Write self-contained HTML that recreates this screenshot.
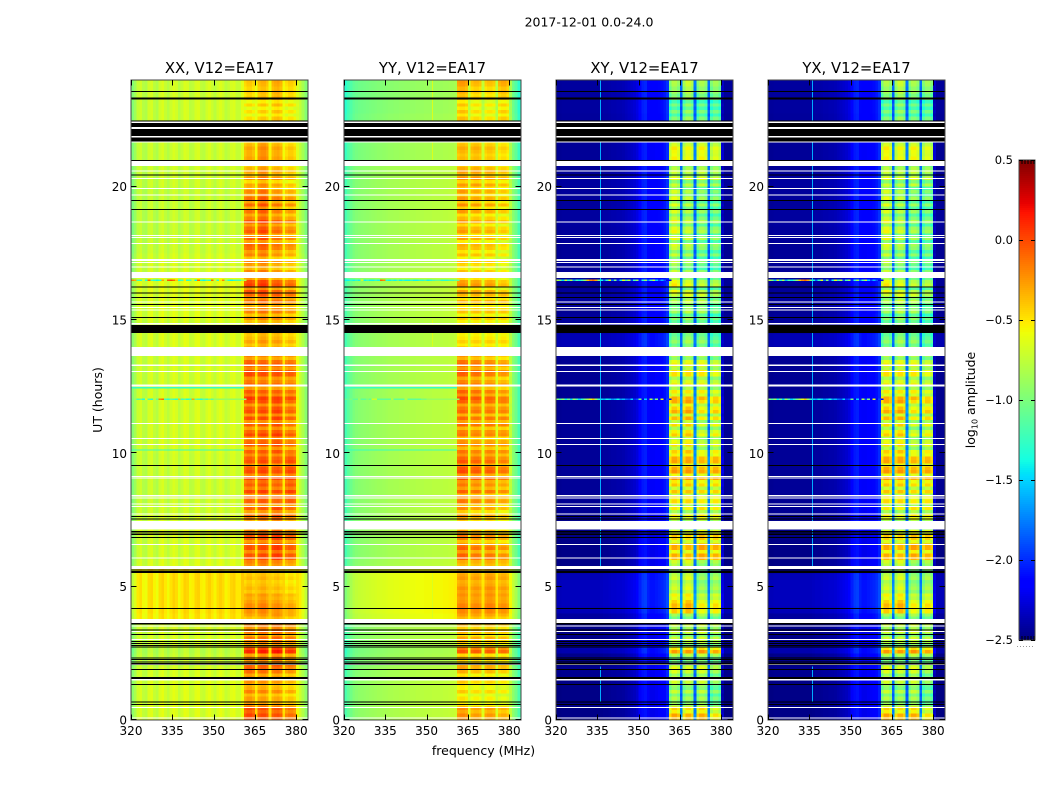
<!DOCTYPE html>
<html lang="en">
<head>
<meta charset="utf-8">
<title>2017-12-01 0.0-24.0</title>
<style>
html,body{margin:0;padding:0;background:#fff;}
svg{display:block;}
text{font-family:"DejaVu Sans","Liberation Sans",sans-serif;fill:#000;}
</style>
</head>
<body>
<svg id="fig" xmlns="http://www.w3.org/2000/svg" width="1050" height="800" viewBox="0 0 1050 800">
<rect x="0" y="0" width="1050" height="800" fill="#fff"/>
<text x="589" y="26.5" font-size="12.5" text-anchor="middle">2017-12-01 0.0-24.0</text>
<text x="483.5" y="755" font-size="12.5" text-anchor="middle">frequency (MHz)</text>
<text x="0" y="0" font-size="12.5" text-anchor="middle" transform="translate(102 400) rotate(-90)">UT (hours)</text>
<text x="0" y="0" font-size="12.5" text-anchor="middle" transform="translate(975 400) rotate(-90)">log<tspan font-size="8" dy="2.5">10</tspan><tspan dy="-2.5"> amplitude</tspan></text>
<g id="panels"></g>
<g id="cbar"></g>
</svg>
<script>
// ---- axis ticks ----
const freqTicks = [320, 335, 350, 365, 380];
const utTicks = [0, 5, 10, 15, 20];
const colorTicks = [-2.5, -2.0, -1.5, -1.0, -0.5, 0.0, 0.5];
const panelTitles = ["XX, V12=EA17", "YY, V12=EA17", "XY, V12=EA17", "YX, V12=EA17"];

// ---- mean log10 amplitude per 1 MHz channel, 320..383 MHz ----
const spectrumXX = [-0.95,-0.85,-0.71,-0.67,-0.77,-0.79,-0.67,-0.65,-0.75,-0.79,-0.67,-0.63,-0.71,-0.77,-0.69,-0.63,-0.67,-0.77,-0.71,-0.63,-0.65,-0.75,-0.73,-0.65,-0.63,-0.73,-0.75,-0.67,-0.63,-0.69,-0.75,-0.67,-0.63,-0.67,-0.75,-0.71,-0.65,-0.63,-0.71,-0.71,-0.61,-0.40,-0.34,-0.34,-0.40,-0.55,-0.35,-0.30,-0.30,-0.36,-0.55,-0.38,-0.34,-0.32,-0.38,-0.56,-0.44,-0.38,-0.38,-0.44,-0.62,-0.72,-0.82,-0.95];
const spectrumYY = [-1.20,-1.12,-1.06,-1.00,-0.97,-0.95,-0.94,-0.93,-0.92,-0.91,-0.90,-0.89,-0.88,-0.88,-0.87,-0.86,-0.85,-0.85,-0.84,-0.84,-0.83,-0.83,-0.82,-0.82,-0.81,-0.81,-0.80,-0.80,-0.80,-0.79,-0.79,-0.79,-0.78,-0.78,-0.78,-0.78,-0.77,-0.77,-0.76,-0.76,-0.74,-0.50,-0.46,-0.46,-0.50,-0.70,-0.50,-0.46,-0.46,-0.50,-0.70,-0.50,-0.46,-0.46,-0.50,-0.72,-0.52,-0.48,-0.48,-0.54,-0.78,-0.95,-1.05,-1.20];
const spectrumXY = [-2.47,-2.47,-2.46,-2.46,-2.46,-2.46,-2.46,-2.46,-2.46,-2.46,-2.46,-2.46,-2.46,-2.46,-2.46,-2.46,-2.45,-2.44,-2.44,-2.43,-2.42,-2.42,-2.41,-2.41,-2.40,-2.38,-2.36,-2.34,-2.32,-2.28,-2.16,-2.08,-2.06,-2.16,-2.20,-2.20,-2.18,-2.16,-2.14,-2.10,-2.02,-1.08,-0.90,-0.90,-1.00,-1.85,-1.05,-0.90,-0.90,-1.00,-1.85,-1.05,-0.92,-0.92,-1.02,-1.85,-1.08,-0.95,-0.95,-1.08,-2.36,-2.47,-2.47,-2.47];
const spectrumYX = [-2.47,-2.47,-2.46,-2.46,-2.46,-2.46,-2.46,-2.46,-2.46,-2.46,-2.46,-2.46,-2.46,-2.46,-2.46,-2.46,-2.45,-2.44,-2.44,-2.43,-2.42,-2.42,-2.41,-2.41,-2.40,-2.38,-2.36,-2.34,-2.32,-2.28,-2.16,-2.08,-2.06,-2.16,-2.20,-2.20,-2.18,-2.16,-2.14,-2.10,-2.02,-1.08,-0.90,-0.90,-1.00,-1.85,-1.05,-0.90,-0.90,-1.00,-1.85,-1.05,-0.92,-0.92,-1.02,-1.85,-1.08,-0.95,-0.95,-1.08,-2.36,-2.47,-2.47,-2.47];
// share of each channel that follows the band gain instead of the base gain
const bandShare = [0,0,0,0,0,0,0,0,0,0,0,0,0,0,0,0,0,0,0,0,0,0,0,0,0,0,0,0,0,0,0,0,0,0,0,0,0,0,0,0,0,1,1,1,1,0.3,1,1,1,1,0.3,1,1,1,1,0.3,1,1,1,1,0.2,0,0,0];
const firstBandChannel = 41;
const channelsPerSubband = 5;

// ---- gain per quarter hour, 0h..24h ----
const bandGainXX = [.22,.18,.12,.02,.05,-.02,.12,.14, .16,.1,.16,.1,.12,.15,.08,.02, .1,.1,.03,-.02,-.05,-.06,-.04,.12, .2,.22,.18,.2,.12,.12,.1,.16, .14,.2,.22,.18,.22,.2,.18,.2, .14,.18,.2,.16,.15,.18,.2,.16, .2,.15,.12,.18,.2,.15,.08,.05, 0,-.04,-.02,-.02,.02,.06,.08,.16, .16,.2,.1,.05,.04,.02,.1,.12, .12,.14,.16,.12,.08,.1,.12,.02, -.05,0,-.02,-.05,0,-.02,-.03,-.08, -.08,-.08,-.14,-.16,-.14,-.1,-.06,-.04];
const bandGainYY = [.12,.08,-.02,-.08,-.06,-.08,.02,.05, .05,.02,.1,.02,.05,.05,.02,.14, .22,.22,.18,.2,.15,.15,.12,.08, .2,.22,.12,.14,.06,.06,.04,.08, .12,.14,.18,.14,.24,.26,.22,.22, .16,.14,.14,.16,.2,.18,.2,.2, .22,.2,.16,.18,.22,.18,.1,.05, -.02,-.06,-.06,-.06,-.04,-.02,0,.02, .02,.06,.02,-.02,-.02,-.04,-.02,0, .02,.04,.04,.04,.06,.08,.08,.06, .06,.08,.08,.02,0,.03,.02,0, 0,0,-.04,-.06,-.08,-.04,.04,.1];
const bandGainXY = [.42,.3,.12,.02,.02,.04,.14,.12, 0,.05,.2,.1,.05,.15,.1,0, .4,.45,.25,.15,.1,.1,.05,.1, .35,.4,.35,.3,.18,.15,.15,.2, .2,.25,.25,.3,.4,.4,.38,.42, .25,.2,.22,.2,.2,.28,.35,.35, .3,.2,.18,.2,.22,.15,.05,0, -.05,-.1,-.15,-.1,-.1,-.05,0,.1, .05,.12,.1,0,0,-.02,-.02,.02, .05,.08,.08,.05,.02,.02,.1,0, -.02,.05,0,-.02,.18,.18,.12,0, 0,0,-.1,-.12,-.15,-.1,.05,.1];
const baseGainXX = [.02,.02,.02,.02,.02,.02,0,0, -.05,-.05,-.08,-.03,0,0,0,.18, .2,.2,.2,.2,.2,.2,.2,.02, 0,0,0,0,.02,0,0,-.02, -.03,-.03,-.03,-.03,-.02,-.02,-.02,-.02, 0,0,0,0,0,0,0,0, 0,0,0,0,0,0,0,0, .02,.02,0,0,.03,.03,.03,.03, .05,.05,.05,0,0,0,-.03,-.03, -.05,-.05,-.05,-.05,-.05,-.05,-.05,-.05, -.03,-.03,-.03,-.03,-.03,-.03,-.03,-.03, -.02,-.02,-.02,-.02,-.02,-.02,-.02,-.02];
const baseGainYY = [.02,.02,.02,.02,.02,.02,0,0, -.04,-.04,-.06,-.03,0,0,0,.2, .22,.22,.22,.22,.22,.22,.22,.02, 0,0,0,0,.02,0,0,0, 0,0,0,0,0,0,0,0, 0,0,0,0,0,0,0,0, 0,0,0,0,0,0,0,0, 0,0,0,0,.02,.02,.02,.02, .02,.02,.02,0,0,0,0,0, 0,0,0,0,0,0,0,0, 0,0,0,0,-.05,-.05,-.05,-.05, -.05,-.05,-.08,-.1,-.1,-.1,-.1,-.1];
const baseGainXY = [-.02,-.02,-.02,-.02,-.02,-.02,0,0, -.02,-.01,.08,.02,-.02,-.02,-.02,.04, .1,.12,.12,.12,.12,.1,.06,-.02, -.02,-.02,-.02,-.02,-.02,-.01,0,.01, .01,.01,.02,.02,.02,.02,.02,.02, .02,.02,.02,.02,.02,.02,.02,.02, .01,.01,.01,.01,.01,.01,.03,.03, .1,.09,.05,.03,.03,.01,.03,.03, .03,.03,.03,.02,.02,.02,.02,.02, .03,.03,.04,.04,.04,.03,.03,.03, .04,.04,.02,.02,.02,.02,.02,.02, .02,.02,.03,.04,.04,.04,.04,.04];

// ---- streak detail in the receiver band, per eighth of an hour ----
const bandStreakParallel = [.06,.1,.04,.12,-.06,-.1,.02,-.08,.08,-.06,-.02,.1,.02,-.1,.06,.1, .1,-.06,.08,-.04,.3,.18,-.08,.02,.1,-.1,.06,-.04,.1,.02,-.06,.04, .02,.05,.04,-.02,0,.04,-.03,.02,0,-.03,.04,0,-.04,.02,0,.05, .1,.12,-.08,.1,.12,-.1,.08,.12,.04,-.1,.1,-.08,.06,.12,-.1,.1, -.1,.12,.06,-.1,.14,-.06,.1,.02,.14,-.08,.14,.1,-.08,.14,.08,-.06, .12,-.1,.12,.04,-.1,.14,.08,-.1,.12,-.06,.14,-.1,.12,.06,-.08,.14, .16,-.06,.1,-.1,.14,.02,-.1,.12,.1,-.1,.14,.06,-.06,.12,.04,-.02, -.04,.06,.02,-.02,.04,0,.06,-.02,.08,-.06,.1,.02,-.08,.12,-.06,.1, .12,-.1,.14,.08,-.06,.14,.06,-.1,-.02,.06,-.1,.1,-.06,.08,.1,-.1, .12,-.08,.12,.06,-.1,.12,.02,-.1,.1,-.08,.12,-.06,.08,-.1,.1,-.04, .1,-.08,.1,-.06,.08,.02,-.08,.06,.06,.02,.04,.08,.02,-.04,.05,.02, .02,0,0,.02,.06,-.08,.08,-.06,.08,-.06,.1,.04,.04,0,.02,.04];
const bandStreakCross = [.1,.16,.02,.14,-.08,-.16,.06,-.12,.14,-.1,-.04,.16,.04,-.16,.1,.16, .14,-.1,-.12,.1,.45,.2,-.14,.04,.16,-.16,.1,-.08,.14,.02,-.12,.06, .04,.08,.06,-.04,0,.06,-.06,.04,.02,-.06,.08,0,-.06,.04,-.02,.08, .16,.2,-.12,.16,.22,-.14,.12,.18,.06,-.16,.16,-.12,.1,.18,-.16,.16, -.16,.2,.1,-.14,.22,-.1,.16,.04,.22,-.12,.22,.16,-.12,.2,.14,-.1, .18,-.16,.18,.06,-.14,.22,.12,-.16,.2,-.1,.22,-.14,.2,.08,-.12,.2, .24,-.1,.16,-.14,.2,.04,-.16,.18,.16,-.14,.2,.1,-.1,.16,.06,-.04, -.06,.1,.04,-.04,.06,0,.1,-.04,.12,-.1,.16,.04,-.12,.18,-.1,.16, .2,-.14,.2,.12,-.1,.2,.1,-.16,-.04,.1,-.16,.14,-.1,.12,.16,-.14, .2,-.12,.18,.1,-.16,.18,.04,-.14,.16,-.12,.18,-.1,.12,-.14,.16,-.06, .14,-.12,.16,-.1,.12,.04,-.12,.1,.1,.04,.06,.12,.04,-.06,.08,.04, .04,0,0,.04,.1,-.12,.12,-.1,.12,-.1,.16,.06,.06,0,.04,.06];

// ---- relative level of the four sub-bands, per two hours ----
const subbandShiftXX = [[.05,0,0,-.05],[0,0,.05,0],[0,0,-.02,-.05],[0,0,.08,0],[0,0,-.02,.06],[.02,0,.06,-.02],[.06,0,.02,.02],[0,.02,.02,-.02],[.05,.05,-.02,-.05],[.03,.08,-.02,-.06],[0,.06,0,-.06],[-.05,-.02,.05,-.03]];
const subbandShiftYY = [[.05,-.02,0,-.05],[.03,0,0,-.03],[.03,0,.03,0],[.08,0,0,-.06],[.08,.02,0,-.05],[.06,0,0,-.02],[.1,.04,0,-.06],[0,0,0,0],[.05,.02,0,-.08],[.06,0,-.02,-.08],[.05,.04,0,-.05],[.08,-.02,-.05,.05]];
const subbandShiftXY = [[.05,0,.05,-.1],[0,0,.05,0],[.05,.1,-.1,-.02],[.05,0,.1,.08],[.05,.05,0,.05],[.05,.1,-.1,0],[.05,.05,.05,-.02],[-.05,.05,0,-.1],[.1,0,-.1,-.1],[.1,-.02,-.12,-.15],[.1,.05,.1,.05],[-.05,.05,-.05,-.05]];

// ---- narrow spectral lines: [start UT, end UT] ----
const crossLineFreq = 336.1;
const crossLineValue = -1.62;
const crossLineSpans = [[0.7,2.0],[5.75,13.65],[13.98,24]];
const yyLineFreq = 352;
const yyLineValue = -0.66;
const yyLineSpans = [[3.8,5.5],[14.0,15.0],[20.9,24]];

// ---- flagged scans [start UT, end UT] ----
const whiteScans = [[22.39,22.44],[22.17,22.24],[21.85,21.90],[21.65,21.69],[20.78,20.97],[20.58,20.61],[20.30,20.33],[19.91,19.95],[19.69,19.71],[18.68,18.70],[18.15,18.19],[18.09,18.11],[17.86,17.89],[17.21,17.28],[17.14,17.18],[16.99,17.01],[16.58,16.80],[15.66,15.70],[15.45,15.49],[15.36,15.40],[14.84,14.88],[13.65,13.98],[13.28,13.34],[13.06,13.09],[12.55,12.59],[12.51,12.54],[11.10,11.13],[10.54,10.58],[10.31,10.35],[9.11,9.15],[9.05,9.09],[8.39,8.43],[8.33,8.35],[8.09,8.11],[7.99,8.03],[7.70,7.74],[7.15,7.47],[6.57,6.60],[6.08,6.10],[5.66,5.78],[3.63,3.79],[3.50,3.55],[3.30,3.34],[3.01,3.04],[2.06,2.10],[1.49,1.53],[0.46,0.49],[0.08,0.10]];
const blackScans = [[23.55,23.58],[23.27,23.35],[22.44,22.49],[22.24,22.39],[21.90,22.17],[21.69,21.85],[20.97,21.00],[20.44,20.46],[19.47,19.50],[19.14,19.16],[16.24,16.26],[16.01,16.04],[15.84,15.86],[15.57,15.60],[15.09,15.11],[14.52,14.81],[9.54,9.56],[7.61,7.65],[7.53,7.56],[7.04,7.09],[6.94,6.99],[6.84,6.87],[5.60,5.64],[5.52,5.58],[4.16,4.20],[3.59,3.63],[3.38,3.40],[3.20,3.22],[2.92,2.96],[2.86,2.89],[2.79,2.81],[2.71,2.75],[2.32,2.35],[2.25,2.28],[2.17,2.20],[2.09,2.14],[1.88,1.91],[1.59,1.62],[1.53,1.58],[1.31,1.35],[0.66,0.70],[0.57,0.60]];

// ---- interference scans: channel values from 320 MHz upward ----
const rfiUT = [16.46, 12.0];
const rfiScanWidth = 0.05;
const rfi16Parallel = [-0.2,-0.3,-1.2,-1.3,-0.7,-1.3,-0.1,-1.2,-1.3,-1.4,-1.3,-0.3,-0.7,-0.05,0.0,-0.1,-0.4,-1.3,-1.2,-0.5,-1.3,-1.2,-0.7,-1.4,-0.1,-1.3,-1.4,-1.2,-1.3,-0.1,-0.7,-1.3,-0.5,-0.2,-0.9,-1.3,-1.4,-1.3,-1.2,-1.2,-0.9,-0.8];
const rfi12Parallel = [-1.0,-0.9,-1.2,-1.1,-1.3,-0.6,-1.2,-1.3,-0.8,-1.1,-0.2,-0.1,-1.2,-1.3,-1.1,-1.2,-1.3,-0.4,-1.2,-1.1,-1.3,-1.2,-0.3,-1.1,-1.2,-1.3,-1.1,-1.2,-1.0,-1.1,-0.9,-0.9,-0.9,-0.9,-0.9,-0.9,-0.9,-0.9,-0.9,-0.9,-0.9,-0.9];
const rfi16YY = [-1.4,-1.4,-1.3,-1.4,-1.3,-1.4,-0.7,-1.4,-1.3,-1.4,-1.4,-1.3,-1.4,-0.1,-0.2,-1.3,-1.4,-1.3,-1.4,-1.2,-1.4,-1.3,-1.4,-1.4,-1.3,-1.4,-1.4,-1.3,-1.3,-1.2,-1.4,-1.3,-1.2,-1.1,-1.1,-1.3,-1.3,-1.3,-1.2,-1.2,-1.1,-1.1];
const rfi12YY = [-1.1,-1.1,-1.0,-1.1,-1.1,-0.9,-1.1,-1.1,-1.0,-1.1,-0.7,-0.7,-1.1,-1.1,-1.1,-1.1,-1.1,-0.8,-1.1,-1.1,-1.1,-1.1,-0.8,-1.1,-1.1,-1.1,-1.1,-1.1,-1.0,-1.0,-0.9,-0.9,-0.9,-0.9,-0.9,-0.9,-0.9,-0.9,-0.9,-0.9,-0.9,-0.9];
const rfi16Cross = [-0.8,-1.0,-1.5,-0.7,-1.3,-0.8,-1.6,-1.2,-1.4,-1.2,-0.9,-0.4,-0.2,-0.1,-0.3,-1.0,-1.4,-1.8,-1.3,-0.6,-1.8,-1.0,-2.0,-1.4,-0.6,-1.2,-0.8,-1.9,-1.2,-0.9,-2.0,-1.3,-0.9,-1.7,-1.2,-0.7,-1.5,-1.9,-1.6,-1.9,-2.2,-2.2];
const rfi12Cross = [-1.0,-1.2,-0.9,-1.4,-1.1,-1.5,-0.9,-1.2,-1.5,-1.3,-1.0,-0.8,-0.6,-0.4,-0.9,-1.3,-1.5,-1.6,-1.4,-1.5,-1.7,-1.6,-1.4,-1.7,-1.6,-1.8,-1.9,-1.5,-2.0,-1.9,-1.0,-2.2,-1.5,-2.1,-0.8,-1.9,-1.0,-2.2,-0.6,-2.2,-1.9,-2.2];
const faintCyanUT = [12.43, 10.1];
const faintCyanValue = -1.25;

// ---- layout ----
const panelLefts = [131, 344, 556, 768];
const panelWidth = 177;
const plotTop = 80;
const plotBottom = 720;
const freqMin = 320, freqMax = 384.3;
const utMin = 0, utMax = 24;
const rowSpan = 0.25;
const colorMin = -2.5, colorMax = 0.5;
const barLeft = 1019, barRight = 1035, barTop = 160, barBottom = 640;

const NS = "http://www.w3.org/2000/svg";
function xScale(f, left) { return left + (f - freqMin) / (freqMax - freqMin) * panelWidth; }
function yScale(h) { return plotBottom - (h - utMin) / (utMax - utMin) * (plotBottom - plotTop); }
function cbScale(v) { return barBottom - (v - colorMin) / (colorMax - colorMin) * (barBottom - barTop); }
function seg(t, pts) {
  for (let i = 1; i < pts.length; i++) {
    if (t <= pts[i][0]) {
      const a = pts[i - 1], b = pts[i];
      return a[1] + (b[1] - a[1]) * (t - a[0]) / (b[0] - a[0]);
    }
  }
  return pts[pts.length - 1][1];
}
function jet(v) {
  const t = Math.max(0, Math.min(1, (v - colorMin) / (colorMax - colorMin)));
  const r = seg(t, [[0,0],[.35,0],[.66,1],[.89,1],[1,.5]]);
  const g = seg(t, [[0,0],[.125,0],[.375,1],[.64,1],[.91,0],[1,0]]);
  const b = seg(t, [[0,.5],[.11,1],[.34,1],[.65,0],[1,0]]);
  return "rgb(" + Math.round(r * 255) + "," + Math.round(g * 255) + "," + Math.round(b * 255) + ")";
}
function make(tag, attrs, parent) {
  const el = document.createElementNS(NS, tag);
  for (const k in attrs) el.setAttribute(k, attrs[k]);
  parent.appendChild(el);
  return el;
}

const panelSpectra = [spectrumXX, spectrumYY, spectrumXY, spectrumYX];
const panelBand = [bandGainXX, bandGainYY, bandGainXY, bandGainXY];
const panelBase = [baseGainXX, baseGainYY, baseGainXY, baseGainXY];
const panelStreak = [bandStreakParallel, bandStreakParallel, bandStreakCross, bandStreakCross];
const panelShift = [subbandShiftXX, subbandShiftYY, subbandShiftXY, subbandShiftXY];
const panelRfi = [[rfi16Parallel, rfi12Parallel], [rfi16YY, rfi12YY], [rfi16Cross, rfi12Cross], [rfi16Cross, rfi12Cross]];
const panelKeys = ["xx", "yy", "xy", "yx"];

const panelsRoot = document.getElementById("panels");
panelLefts.forEach(function (left, p) {
  const g = make("g", { "shape-rendering": "crispEdges" }, panelsRoot);
  
  
  const spec = panelSpectra[p];
  const channelEdge = function (c) { return c >= spec.length ? left + panelWidth : xScale(freqMin + c, left); };
  const rows = panelBand[p].length;
  for (let r = 0; r < rows; r++) {
    for (let c = 0; c < spec.length; c++) {
      const share = bandShare[c];
      const parts = share > 0 ? 2 : 1;
      const sub = Math.min(3, Math.floor((c - firstBandChannel) / channelsPerSubband));
      for (let k = 0; k < parts; k++) {
        let value = spec[c] + (1 - share) * panelBase[p][r];
        if (share > 0) {
          value += share * (panelBand[p][r] + panelStreak[p][2 * r + k] + panelShift[p][Math.floor(r / 8)][sub]);
        }
        const hLow = utMin + (r + k / parts) * rowSpan;
        const hHigh = utMin + (r + (k + 1) / parts) * rowSpan;
        const x0 = channelEdge(c);
        const cell = make("rect", { x: x0, y: yScale(hHigh), width: channelEdge(c + 1) - x0, height: yScale(hLow) - yScale(hHigh), fill: jet(value) }, g);
        
        
      }
    }
  }
  const lineSpans = p >= 2 ? crossLineSpans : (p === 1 ? yyLineSpans : []);
  const lineFreq = p >= 2 ? crossLineFreq : yyLineFreq;
  const lineValue = p >= 2 ? crossLineValue : yyLineValue;
  lineSpans.forEach(function (s) {
    const ln = make("rect", { x: Math.round(xScale(lineFreq, left)), y: yScale(s[1]), width: 1, height: yScale(s[0]) - yScale(s[1]), fill: jet(lineValue) }, g);
    
    
  });
  if (p < 2) {
    faintCyanUT.forEach(function (h) {
      spec.slice(0, 41).forEach(function (_, c) {
        const x0 = channelEdge(c);
        const faint = make("rect", { x: x0, y: yScale(h + 0.05), width: channelEdge(c + 1) - x0, height: yScale(h) - yScale(h + 0.05), fill: jet(faintCyanValue) }, g);
        
        
      });
    });
  }
  rfiUT.forEach(function (h, s) {
    panelRfi[p][s].forEach(function (v, c) {
      const x0 = channelEdge(c);
      const cell = make("rect", { x: x0, y: yScale(h + rfiScanWidth), width: channelEdge(c + 1) - x0, height: yScale(h) - yScale(h + rfiScanWidth), fill: jet(v) }, g);
      
      
    });
  });
  whiteScans.forEach(function (s) {
    const band = make("rect", { x: left, y: yScale(s[1]), width: panelWidth, height: Math.max(1, yScale(s[0]) - yScale(s[1])), fill: "#fff" }, g);
    
    
  });
  blackScans.forEach(function (s) {
    const band = make("rect", { x: left, y: yScale(s[1]), width: panelWidth, height: Math.max(1, yScale(s[0]) - yScale(s[1])), fill: "#000" }, g);
    
    
  });

  const frame = make("rect", { x: left, y: plotTop, width: panelWidth, height: plotBottom - plotTop, fill: "none", stroke: "#444", "stroke-width": 1 }, panelsRoot);
  
  

  const ticks = make("g", { stroke: "#000", "stroke-width": 1, "shape-rendering": "crispEdges" }, panelsRoot);
  
  
  freqTicks.forEach(function (f) {
    const x = Math.round(xScale(f, left)) + 0.5;
    make("line", { x1: x, x2: x, y1: plotBottom, y2: plotBottom - 5.5 }, ticks);
    make("line", { x1: x, x2: x, y1: plotTop, y2: plotTop + 5.5 }, ticks);
    const lab = make("text", { x: xScale(f, left), y: 735, "font-size": 12, "text-anchor": "middle" }, panelsRoot);
    
    
    lab.textContent = String(f);
  });
  utTicks.forEach(function (h) {
    const y = Math.round(yScale(h)) - 0.5;
    make("line", { x1: left, x2: left + 5.5, y1: y, y2: y }, ticks);
    make("line", { x1: left + panelWidth, x2: left + panelWidth - 5.5, y1: y, y2: y }, ticks);
    const lab = make("text", { x: left - 4, y: yScale(h) + 4.5, "font-size": 12, "text-anchor": "end" }, panelsRoot);
    
    
    lab.textContent = String(h);
  });
  const title = make("text", { x: left + panelWidth / 2, y: 73, "font-size": 14.8, "text-anchor": "middle" }, panelsRoot);
  
  
  title.textContent = panelTitles[p];
});

// ---- colorbar ----
const cb = document.getElementById("cbar");
const cbSteps = 240;
for (let i = 0; i < cbSteps; i++) {
  const v0 = colorMin + (colorMax - colorMin) * i / cbSteps;
  const v1 = colorMin + (colorMax - colorMin) * (i + 1) / cbSteps;
  const step = make("rect", { x: barLeft, y: cbScale(v1), width: barRight - barLeft, height: cbScale(v0) - cbScale(v1), fill: jet((v0 + v1) / 2), "shape-rendering": "crispEdges" }, cb);
  
  
}
const cbFrame = make("rect", { x: barLeft, y: barTop, width: barRight - barLeft, height: barBottom - barTop, fill: "none", stroke: "#444", "stroke-width": 1 }, cb);


colorTicks.forEach(function (v) {
  const y = Math.round(cbScale(v)) + 0.5;
  make("line", { x1: barLeft, x2: barLeft + 4, y1: y, y2: y, stroke: "#000", "shape-rendering": "crispEdges" }, cb);
  make("line", { x1: barRight, x2: barRight - 4, y1: y, y2: y, stroke: "#000", "shape-rendering": "crispEdges" }, cb);
  const lab = make("text", { x: 1013, y: cbScale(v) + 4, "font-size": 11.5, "text-anchor": "end" }, cb);
  
  
  lab.textContent = (v < 0 ? "\u2212" : "") + Math.abs(v).toFixed(1);
});
const cbMinorTicks = [1022, 1025, 1028, 1031, 1034];
cbMinorTicks.forEach(function (x) {
  make("line", { x1: x, x2: x, y1: barTop, y2: barTop + 4, stroke: "#000", "shape-rendering": "crispEdges" }, cb);
  make("line", { x1: x, x2: x, y1: barBottom, y2: barBottom - 4, stroke: "#000", "shape-rendering": "crispEdges" }, cb);
});
const dots = make("line", { x1: 1017, x2: 1035, y1: 646.5, y2: 646.5, stroke: "#999", "stroke-width": 1, "stroke-dasharray": "1 2", "shape-rendering": "crispEdges" }, cb);


</script>
</body>
</html>
